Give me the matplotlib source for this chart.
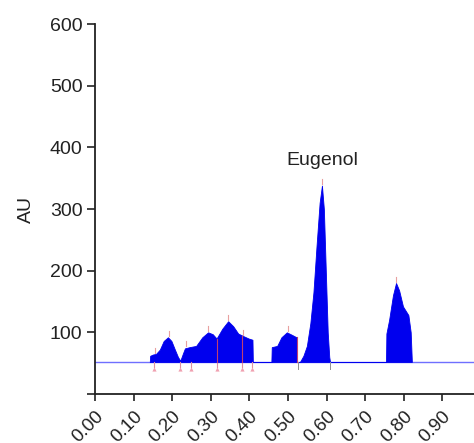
import matplotlib
matplotlib.use("Agg")
import matplotlib.pyplot as plt
import numpy as np

# ---- data ----
baseline_au = 52

rf = [0.142, 0.143, 0.150, 0.158, 0.168, 0.178, 0.189, 0.198, 0.207, 0.215, 0.221,
      0.228, 0.233, 0.245, 0.262, 0.278, 0.293, 0.305, 0.315, 0.330, 0.345, 0.358,
      0.371, 0.384, 0.398, 0.408, 0.409,
      0.457, 0.458, 0.472, 0.483, 0.497, 0.510, 0.522, 0.523,
      0.531, 0.540, 0.549, 0.558, 0.566, 0.574, 0.582, 0.588, 0.593, 0.598, 0.603,
      0.607, 0.609,
      0.754, 0.755, 0.762, 0.772, 0.780, 0.788, 0.798, 0.805, 0.812, 0.818, 0.821]
au = [52, 62, 64, 65, 72, 86, 92, 86, 72, 60, 54,
      66, 74, 76, 78, 92, 100, 97, 90, 106, 118, 110,
      98, 94, 90, 88, 52,
      52, 76, 78, 92, 100, 96, 92, 52,
      52, 62, 78, 115, 165, 240, 310, 338, 300, 200, 100,
      60, 52,
      52, 98, 120, 160, 180, 168, 142, 135, 128, 100, 52]

peak_rf = [0.155, 0.191, 0.237, 0.293, 0.345, 0.384, 0.500, 0.588, 0.780]
peak_au = [64, 92, 76, 100, 118, 94, 100, 338, 180]
boundary_rf = [0.154, 0.220, 0.248, 0.315, 0.380, 0.406]
split_rf = [0.315, 0.380, 0.523]
split_au = [90, 94, 92]
end_rf = [0.527, 0.609]

label_text = "Eugenol"
label_rf = 0.588
label_au = 378

xticks = [0.0, 0.1, 0.2, 0.3, 0.4, 0.5, 0.6, 0.7, 0.8, 0.9]
xticklabels = ["0.00", "0.10", "0.20", "0.30", "0.40", "0.50", "0.60", "0.70", "0.80", "0.90"]
yticks = [0, 100, 200, 300, 400, 500, 600]
yticklabels = ["", "100", "200", "300", "400", "500", "600"]

# ---- plot ----
plt.rcParams['font.family'] = ['Liberation Sans', 'DejaVu Sans']
fig = plt.figure(figsize=(4.74, 4.43), dpi=100)
ax = fig.add_axes([0.2004, 0.1106, 0.7996, 0.8352])

x = np.array(rf)
y = np.array(au)
ax.fill_between(x, baseline_au, y, where=y >= baseline_au, color='#0000ee',
                linewidth=0.6, edgecolor='#0000ee', zorder=2)
ax.axhline(baseline_au, color='#6f6fff', linewidth=1.0, zorder=1)

# peak markers
for px, py in zip(peak_rf, peak_au):
    ax.plot([px, px], [py + 2, py + 10], color='#e8a0a0', linewidth=0.8, zorder=3)
for bx in boundary_rf:
    ax.plot([bx, bx], [baseline_au, baseline_au - 8], color='#e090a0', linewidth=0.8, zorder=3)
    ax.plot([bx], [baseline_au - 12], marker='^', markersize=3, color='#f0a0b0',
            markeredgewidth=0, zorder=3)
for sx, sy in zip(split_rf, split_au):
    ax.plot([sx, sx], [baseline_au, sy], color='#c04070', linewidth=0.8, zorder=3)
for ex in end_rf:
    ax.plot([ex, ex], [baseline_au, baseline_au - 12], color='#909090', linewidth=0.7, zorder=3)

ax.text(label_rf, label_au, label_text, ha='center', va='center', fontsize=14, color='#222222')

ax.set_xlim(0, 0.982)
ax.set_ylim(0, 600)
ax.set_xticks(xticks)
ax.set_xticklabels(xticklabels, rotation=45, ha='right', va='top', rotation_mode='anchor',
                   fontsize=13.5, color='#222222')
ax.set_yticks(yticks)
ax.set_yticklabels(yticklabels, fontsize=14, color='#222222')
ax.set_ylabel("AU", fontsize=14, color='#222222', labelpad=11)

for s in ['top', 'right']:
    ax.spines[s].set_visible(False)
for s in ['left', 'bottom']:
    ax.spines[s].set_linewidth(1.3)
    ax.spines[s].set_color('#222222')
ax.tick_params(axis='y', length=6, width=1.2, pad=3, color='#222222')
ax.tick_params(axis='x', length=5, width=1.2, pad=5, color='#222222')

fig.savefig("out.png", dpi=100)
